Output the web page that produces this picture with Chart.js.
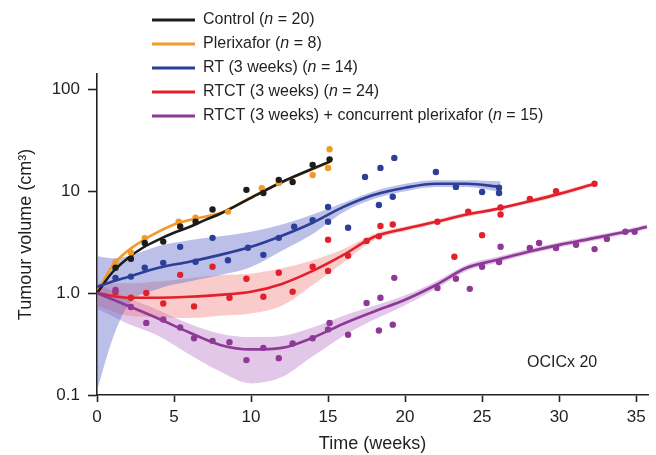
<!DOCTYPE html>
<html>
<head>
<meta charset="utf-8">
<script src="https://cdn.jsdelivr.net/npm/chart.js@4.4.1/dist/chart.umd.min.js"></script>
<style>
  html, body { margin: 0; padding: 0; background: #fff; }
</style>
</head>
<body>
<canvas id="tumourChart" width="656" height="455"></canvas>
<script>
// ---- data (weeks, cm^3) ----
const xTickValues = [0, 5, 10, 15, 20, 25, 30, 35];
const yTickValues = [0.1, 1, 10, 100];
const yTickLabels = ["0.1", "1.0", "10", "100"];

const legendNames = ["Control", "Plerixafor", "RT (3 weeks)", "RTCT (3 weeks)", "RTCT (3 weeks) + concurrent plerixafor"];
const legendN = [20, 8, 14, 24, 15];

// fitted curves
const ctrlWeeks = [0, 1, 2, 3, 4, 5, 6, 7, 8, 10, 12, 15.1];
const ctrlFit = [1.0, 1.6, 2.2, 2.8, 3.35, 3.9, 4.45, 5.2, 6.0, 8.6, 12.3, 19.5];
const plxWeeks = [0, 1, 2, 3, 4, 5, 6, 7, 8, 10, 12, 15.2];
const plxFit = [1.0, 1.85, 2.6, 3.3, 4.0, 4.7, 5.2, 5.6, 6.1, 8.7, 12.2, 19.5];

const rtWeeks = [0, 1, 2, 4, 6, 8, 10, 12, 14, 16, 18, 20, 22, 24, 26.2];
const rtFit = [1.15, 1.3, 1.44, 1.77, 2.03, 2.37, 2.84, 3.65, 4.9, 7.0, 9.2, 10.8, 11.8, 11.8, 11.0];
const rtUpper = [2.3, 2.2, 2.3, 2.9, 3.3, 3.6, 4.0, 4.7, 5.9, 7.7, 10.0, 11.8, 12.8, 12.8, 12.5];
const rtLower = [0.11, 0.35, 0.75, 1.1, 1.3, 1.5, 1.8, 2.6, 3.8, 6.2, 8.4, 10.0, 11.0, 11.0, 9.8];

const rtctWeeks = [0, 2, 4, 6, 8, 10, 12, 14, 16, 18, 20, 22, 24, 26, 28, 30, 32.3];
const rtctFit = [1.0, 0.9, 0.9, 0.92, 0.96, 1.03, 1.23, 1.65, 2.37, 3.57, 4.27, 5.0, 5.9, 6.7, 7.9, 9.4, 11.8];
const rtctUpper = [1.25, 1.25, 1.3, 1.4, 1.5, 1.55, 1.75, 2.1, 2.7, 3.8, 4.5, 5.25, 6.2, 7.0, 8.3, 9.9, 12.3];
const rtctLower = [0.75, 0.6, 0.58, 0.57, 0.6, 0.63, 0.75, 1.2, 2.0, 3.3, 4.05, 4.75, 5.6, 6.4, 7.5, 8.9, 11.2];

const comboWeeks = [0, 2, 4, 6, 8, 10, 12, 14, 16, 18, 20, 22, 24, 26, 28, 30, 32, 34, 35.7];
const comboFit = [1.0, 0.75, 0.56, 0.41, 0.31, 0.28, 0.29, 0.365, 0.5, 0.66, 0.86, 1.2, 1.77, 2.12, 2.54, 2.97, 3.4, 3.9, 4.46];
const comboUpper = [1.25, 0.9, 0.68, 0.5, 0.4, 0.37, 0.38, 0.46, 0.6, 0.75, 0.95, 1.3, 1.9, 2.27, 2.7, 3.15, 3.6, 4.1, 4.7];
const comboLower = [0.7, 0.5, 0.38, 0.25, 0.17, 0.13, 0.15, 0.24, 0.38, 0.55, 0.76, 1.1, 1.65, 1.98, 2.4, 2.8, 3.2, 3.7, 4.25];

// individual measurements
const ctrlPtWeeks = [1.2, 2.2, 3.1, 4.3, 5.4, 6.4, 7.5, 9.7, 10.8, 11.8, 12.7, 14.0, 15.1];
const ctrlPtVol = [1.77, 2.17, 3.1, 3.2, 4.5, 5.0, 6.6, 10.3, 9.6, 12.9, 12.3, 18.1, 20.5];
const plxPtWeeks = [1.2, 2.2, 3.1, 5.3, 6.4, 8.5, 10.7, 11.8, 14.0, 15.0, 15.1];
const plxPtVol = [2.0, 2.5, 3.46, 5.0, 5.5, 6.3, 10.7, 12.0, 14.4, 16.9, 25.8];
const rtPtWeeks = [1.2, 2.2, 3.1, 4.3, 5.4, 6.4, 7.5, 8.5, 9.8, 10.8, 11.8, 12.8, 14.0, 15.0, 15.0, 16.3, 17.4, 18.4, 19.3, 18.3, 19.2, 22.0, 23.3, 25.0, 26.1, 26.1];
const rtPtVol = [1.41, 1.45, 1.77, 1.98, 2.84, 2.03, 3.48, 2.1, 2.78, 2.37, 3.48, 4.47, 5.2, 7.0, 5.0, 4.37, 13.8, 16.9, 21.2, 7.3, 8.8, 15.4, 11.0, 9.8, 10.8, 9.6];
const rtctPtWeeks = [1.2, 2.2, 3.2, 4.3, 5.4, 6.3, 7.5, 8.6, 9.7, 10.8, 11.8, 12.7, 14.0, 15.0, 15.0, 16.3, 17.5, 18.4, 18.3, 19.2, 22.1, 23.2, 24.1, 25.0, 26.2, 26.2, 28.1, 29.8, 32.3];
const rtctPtVol = [1.02, 0.9, 1.0, 0.79, 1.51, 0.74, 1.81, 0.9, 1.38, 0.92, 1.58, 1.03, 1.81, 1.65, 3.33, 2.32, 3.25, 4.55, 3.6, 4.7, 5.0, 2.27, 6.3, 3.7, 6.9, 5.9, 8.4, 10.0, 11.8];
const comboPtWeeks = [1.2, 2.2, 3.2, 4.3, 5.4, 6.3, 7.5, 8.6, 9.7, 10.8, 11.8, 12.7, 14.0, 15.1, 15.0, 16.3, 17.5, 18.4, 18.3, 19.2, 19.3, 22.1, 23.3, 24.2, 25.0, 26.2, 26.1, 28.1, 28.7, 29.8, 31.1, 32.3, 33.1, 34.3, 34.9];
const comboPtVol = [1.07, 0.73, 0.51, 0.55, 0.46, 0.36, 0.34, 0.33, 0.22, 0.29, 0.23, 0.32, 0.36, 0.51, 0.44, 0.39, 0.8, 0.9, 0.43, 0.49, 1.41, 1.12, 1.38, 1.1, 1.81, 2.85, 2.02, 2.77, 3.1, 2.77, 2.98, 2.7, 3.4, 4.0, 4.0];

const colors = ["#1c1c1c", "#f29a26", "#2c3f98", "#e2202b", "#8e3996"];
const bandColors = ["", "", "rgba(95, 105, 200, 0.42)", "rgba(240, 110, 110, 0.36)", "rgba(175, 100, 195, 0.36)"];

const FONT = '"Liberation Sans", Arial, Helvetica, sans-serif';
const TEXT = "#231f20";

function pts(xs, ys) {
  return xs.map((x, i) => ({ x: x, y: ys[i] }));
}

function fitLine(xs, ys, color) {
  return {
    data: pts(xs, ys), borderColor: color, borderWidth: 2.6, pointRadius: 0,
    fill: false, cubicInterpolationMode: "monotone", order: 2
  };
}

function dots(xs, ys, color) {
  return {
    data: pts(xs, ys), showLine: false, pointRadius: 3.2, pointBorderWidth: 0,
    pointBackgroundColor: color, borderColor: color, order: 1
  };
}

function band(xs, up, lo, color) {
  return [
    { data: pts(xs, up), fill: "+1", backgroundColor: color, borderWidth: 0, pointRadius: 0, cubicInterpolationMode: "monotone", order: 3 },
    { data: pts(xs, lo), fill: false, borderWidth: 0, pointRadius: 0, cubicInterpolationMode: "monotone", order: 3 }
  ];
}

const datasets = [
  ...band(rtWeeks, rtUpper, rtLower, bandColors[2]),
  ...band(rtctWeeks, rtctUpper, rtctLower, bandColors[3]),
  ...band(comboWeeks, comboUpper, comboLower, bandColors[4]),
  fitLine(comboWeeks, comboFit, colors[4]),
  fitLine(rtctWeeks, rtctFit, colors[3]),
  fitLine(rtWeeks, rtFit, colors[2]),
  fitLine(ctrlWeeks, ctrlFit, colors[0]),
  fitLine(plxWeeks, plxFit, colors[1]),
  dots(comboPtWeeks, comboPtVol, colors[4]),
  dots(rtctPtWeeks, rtctPtVol, colors[3]),
  dots(rtPtWeeks, rtPtVol, colors[2]),
  dots(ctrlPtWeeks, ctrlPtVol, colors[0]),
  dots(plxPtWeeks, plxPtVol, colors[1])
];

// legend with italic n, plus the model label
const legendPlugin = {
  id: "legendN",
  afterDatasetsDraw(chart) {
    const ctx = chart.ctx;
    ctx.save();
    ctx.textBaseline = "middle";
    legendNames.forEach((name, i) => {
      const y = 20 + i * 24;
      ctx.strokeStyle = colors[i];
      ctx.lineWidth = 3;
      ctx.beginPath();
      ctx.moveTo(152, y);
      ctx.lineTo(195, y);
      ctx.stroke();
      let x = 203;
      ctx.fillStyle = TEXT;
      const parts = [[name + " (", false], ["n", true], [" = " + legendN[i] + ")", false]];
      parts.forEach(([t, italic]) => {
        ctx.font = (italic ? "italic " : "") + "16px " + FONT;
        ctx.fillText(t, x, y);
        x += ctx.measureText(t).width;
      });
    });
    ctx.font = "16px " + FONT;
    ctx.fillText("OCICx 20", 527, 363);
    ctx.restore();
  }
};

new Chart(document.getElementById("tumourChart").getContext("2d"), {
  type: "line",
  data: { datasets: datasets },
  options: {
    responsive: false,
    animation: false,
    events: [],
    layout: { padding: { top: 74, right: 8, left: 0, bottom: 0 } },
    plugins: { legend: { display: false }, tooltip: { enabled: false } },
    scales: {
      x: {
        type: "linear",
        min: 0,
        max: 35.77,
        afterBuildTicks: (s) => { s.ticks = xTickValues.map((v) => ({ value: v })); },
        afterFit: (s) => { s.height = 60; },
        grid: { drawOnChartArea: false, tickLength: 7, tickWidth: 1.6, tickColor: "#222" },
        border: { color: "#222", width: 1.6 },
        ticks: { color: TEXT, font: { family: FONT, size: 17 }, padding: 5, maxRotation: 0 },
        title: { display: true, text: "Time (weeks)", color: TEXT, font: { family: FONT, size: 18 }, padding: { top: 0, bottom: 0 } }
      },
      y: {
        type: "logarithmic",
        min: 0.1,
        max: 141,
        afterBuildTicks: (s) => { s.ticks = yTickValues.map((v) => ({ value: v })); },
        afterFit: (s) => { s.width = 97; },
        grid: { drawOnChartArea: false, tickLength: 9, tickWidth: 1.6, tickColor: "#222" },
        border: { color: "#222", width: 1.6 },
        ticks: { color: TEXT, font: { family: FONT, size: 17 }, padding: 8, callback: (v, i) => yTickLabels[i] },
        title: { display: true, text: "Tumour volume (cm³)", color: TEXT, font: { family: FONT, size: 18 }, padding: { top: 15, bottom: 0 } }
      }
    }
  },
  plugins: [legendPlugin]
});
</script>
</body>
</html>
